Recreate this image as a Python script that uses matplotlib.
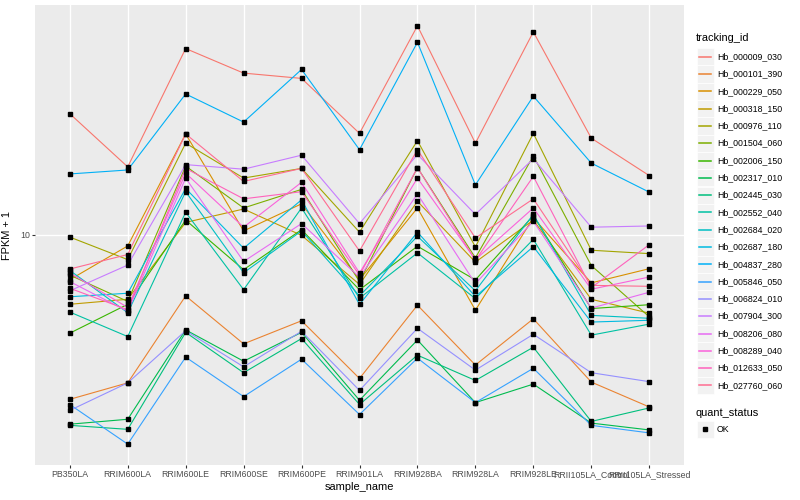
import matplotlib as mplt
mplt.use('Agg')
import matplotlib.pyplot as plt
from matplotlib.patches import Rectangle
from matplotlib.lines import Line2D

plt.rcParams['font.family'] = ['Liberation Sans', 'DejaVu Sans']

# sample order on the x axis
samples = ["PB350LA", "RRIM600LA", "RRIM600LE", "RRIM600SE", "RRIM600PE", "RRIM901LA",
           "RRIM928BA", "RRIM928LA", "RRIM928LE", "RRII105LA_Control", "RRII105LA_Stressed"]

tracking_ids = ["Hb_000009_030", "Hb_000101_390", "Hb_000229_050", "Hb_000318_150",
                "Hb_000976_110", "Hb_001504_060", "Hb_002006_150", "Hb_002317_010",
                "Hb_002445_030", "Hb_002552_040", "Hb_002684_020", "Hb_002687_180",
                "Hb_004837_280", "Hb_005846_050", "Hb_006824_010", "Hb_007904_300",
                "Hb_008206_080", "Hb_008289_040", "Hb_012633_050", "Hb_027760_060"]

# ggplot default hue palette for 20 groups
colors = ["#F8766D", "#EA8331", "#D89000", "#C09B00", "#A3A500", "#7CAE00", "#39B600",
          "#00BB4E", "#00BF7D", "#00C1A3", "#00BFC4", "#00BAE0", "#00B0F6", "#35A2FF",
          "#9590FF", "#C77CFF", "#E76BF3", "#FA62DB", "#FF62BC", "#FF6C91"]

# FPKM + 1 per sample (same order as samples)
hb_000009_030 = [25.5, 16.9, 42.2, 34.9, 33.5, 21.9, 50.3, 20.3, 48.0, 21.1, 15.8]
hb_000101_390 = [2.80, 3.18, 6.23, 4.30, 5.14, 3.29, 5.80, 3.65, 5.22, 3.20, 2.64]
hb_000229_050 = [7.06, 9.17, 21.8, 10.3, 12.7, 7.06, 12.3, 5.58, 11.4, 6.89, 7.69]
hb_000318_150 = [5.84, 6.07, 11.0, 12.2, 9.95, 6.81, 12.95, 8.09, 11.2, 6.07, 5.45]
hb_000976_110 = [9.82, 8.25, 20.3, 15.5, 16.7, 10.2, 20.7, 9.10, 21.9, 8.87, 8.64]
hb_001504_060 = [7.32, 5.97, 17.0, 12.3, 14.2, 6.96, 16.8, 8.36, 18.4, 7.88, 5.30]
hb_002006_150 = [4.67, 5.84, 11.2, 7.63, 10.4, 6.53, 9.15, 7.05, 11.6, 5.65, 5.82]
hb_002317_010 = [2.31, 2.40, 4.79, 3.76, 4.70, 2.78, 4.43, 2.73, 3.15, 2.33, 2.21]
hb_002445_030 = [2.29, 2.22, 4.70, 3.44, 4.48, 2.69, 3.94, 3.24, 4.19, 2.36, 2.62]
hb_002552_040 = [5.50, 4.55, 11.9, 6.54, 12.3, 6.12, 8.69, 6.10, 9.65, 4.60, 5.01]
hb_002684_020 = [7.59, 5.47, 13.95, 7.45, 10.3, 6.23, 9.88, 6.48, 11.7, 5.36, 5.24]
hb_002687_180 = [6.19, 6.36, 14.3, 9.01, 13.1, 5.83, 10.2, 6.20, 9.12, 5.09, 5.16]
hb_004837_280 = [16.0, 16.5, 29.7, 23.9, 35.9, 19.3, 44.3, 14.7, 29.2, 17.4, 13.9]
hb_005846_050 = [2.69, 1.98, 3.88, 2.86, 3.82, 2.49, 3.85, 2.73, 3.56, 2.29, 2.16]
hb_006824_010 = [2.57, 3.18, 4.76, 3.60, 4.74, 3.00, 4.85, 3.51, 4.63, 3.44, 3.21]
hb_007904_300 = [6.48, 7.91, 17.2, 16.6, 18.5, 10.9, 18.6, 11.7, 18.0, 10.6, 10.7]
hb_008206_080 = [6.96, 5.53, 15.5, 8.13, 10.9, 7.20, 13.7, 6.85, 11.1, 5.67, 6.41]
hb_008289_040 = [7.44, 5.70, 16.1, 10.6, 15.0, 7.44, 15.5, 8.25, 12.3, 6.56, 7.21]
hb_012633_050 = [6.61, 5.60, 16.7, 13.2, 13.95, 7.31, 16.8, 8.20, 15.7, 6.64, 9.26]
hb_027760_060 = [7.67, 8.58, 21.8, 15.1, 16.7, 8.82, 19.3, 9.75, 13.2, 6.76, 6.71]

series = [hb_000009_030, hb_000101_390, hb_000229_050, hb_000318_150, hb_000976_110,
          hb_001504_060, hb_002006_150, hb_002317_010, hb_002445_030, hb_002552_040,
          hb_002684_020, hb_002687_180, hb_004837_280, hb_005846_050, hb_006824_010,
          hb_007904_300, hb_008206_080, hb_008289_040, hb_012633_050, hb_027760_060]

W, H = 800.0, 500.0
fig = plt.figure(figsize=(8, 5), dpi=100)
ax = fig.add_axes([35 / W, 35 / H, (684 - 35) / W, 460 / H])
ax.set_facecolor("#EBEBEB")
for s in ax.spines.values():
    s.set_visible(False)

xs = list(range(len(samples)))
for vals, col in zip(series, colors):
    ax.plot(xs, vals, color=col, linewidth=0.8, zorder=2)
for vals in series:
    ax.plot(xs, vals, linestyle="none", marker="s", markersize=2.4,
            color="black", zorder=3)

ax.set_yscale("log")
ax.set_ylim(1.685, 59.1)
ax.set_yticks([10])
ax.set_yticklabels(["10"])
ax.yaxis.set_minor_locator(mplt.ticker.NullLocator())
ax.set_xlim(-0.6, 10.6)
ax.set_xticks(xs)
ax.set_xticklabels(samples)

ax.grid(True, color="white", linewidth=1.0, zorder=0)
ax.set_axisbelow(True)
ax.tick_params(axis="both", length=2.0, width=0.8, color="#333333",
               labelcolor="#4D4D4D", labelsize=6.3, pad=1.5)

ax.set_xlabel("sample_name", fontsize=7.9, labelpad=2)
ax.set_ylabel("FPKM + 1", fontsize=7.9, labelpad=6)

# legend: tracking_id
fig.text(696 / W, 1 - 38 / H, "tracking_id", fontsize=7.9, va="center", ha="left")
for i, (tid, col) in enumerate(zip(tracking_ids, colors)):
    yc = 56.7 + 17.3 * i
    fig.patches.append(Rectangle((697 / W, 1 - (yc + 8.6) / H), 16.5 / W, 17.2 / H,
                                 transform=fig.transFigure, facecolor="#F2F2F2",
                                 edgecolor="white", linewidth=0.5, zorder=1))
    fig.lines.append(Line2D([699 / W, 711 / W], [1 - yc / H, 1 - yc / H],
                            transform=fig.transFigure, color=col, linewidth=1.1,
                            zorder=5))
    fig.text(717 / W, 1 - yc / H, tid, fontsize=6.3, va="center", ha="left")

# legend: quant_status
fig.text(696 / W, 1 - 412.7 / H, "quant_status", fontsize=7.9, va="center", ha="left")
yq = 429.3
fig.patches.append(Rectangle((697 / W, 1 - (yq + 8.6) / H), 16.5 / W, 17.2 / H,
                             transform=fig.transFigure, facecolor="#F2F2F2",
                             edgecolor="white", linewidth=0.5, zorder=1))
fig.lines.append(Line2D([705 / W], [1 - yq / H], transform=fig.transFigure,
                        marker="s", markersize=2.4, color="black", linestyle="none",
                        zorder=5))
fig.text(717 / W, 1 - yq / H, "OK", fontsize=6.3, va="center", ha="left")

fig.savefig("out.png", dpi=100)
